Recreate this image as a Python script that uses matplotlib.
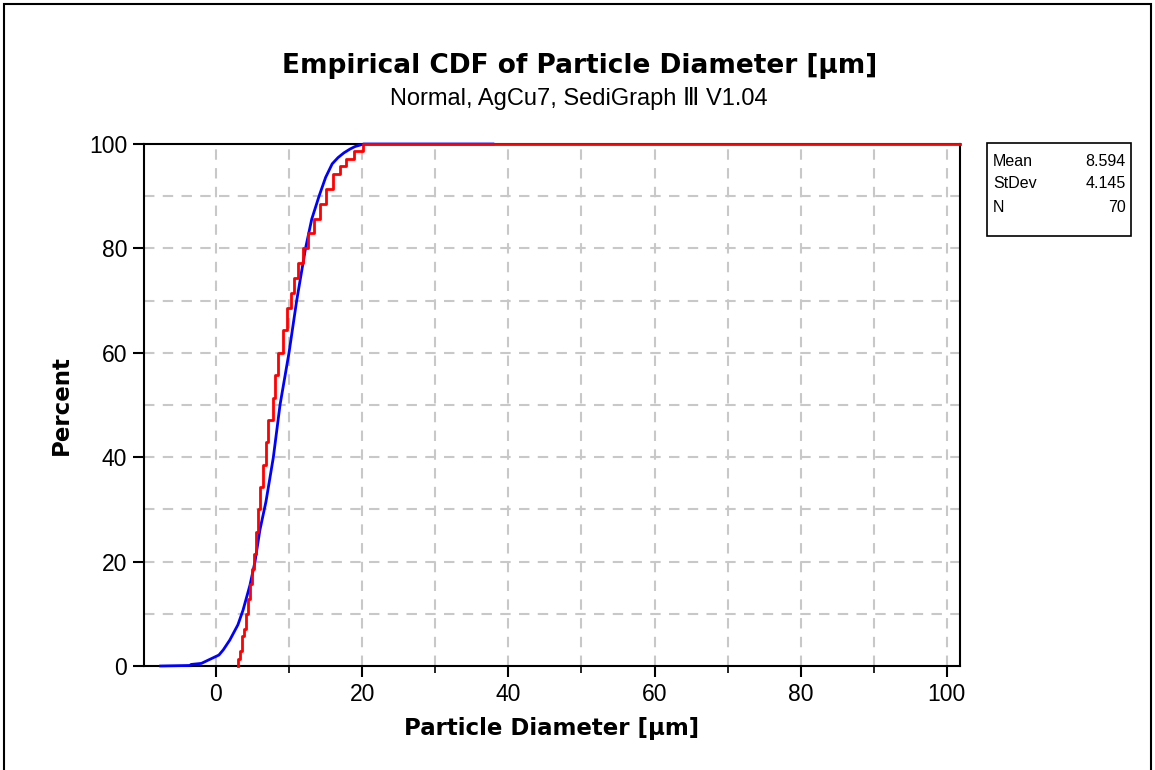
import matplotlib
matplotlib.use("Agg")
import matplotlib.pyplot as plt
from matplotlib.ticker import MultipleLocator
from matplotlib.patches import Rectangle
import numpy as np

# ---- data ----
# sorted observations (µm) and how many observations share each value
red_values = [2.97, 3.28, 3.56, 3.88, 4.10, 4.42, 4.65, 4.97, 5.15, 5.47, 5.70, 6.00,
              6.39, 6.84, 7.12, 7.76, 8.07, 8.53, 9.12, 9.67, 10.22, 10.72, 11.27,
              11.95, 12.60, 13.46, 14.25, 15.03, 15.95, 16.97, 17.85, 18.89, 20.05]
red_counts = [1, 1, 2, 1, 2, 2, 2, 2, 2, 3, 3, 3,
              3, 3, 3, 3, 3, 3, 3, 3, 2, 2, 2,
              2, 2, 2, 2, 2, 2, 1, 1, 1, 1]

# fitted normal CDF curve
blue_x = [-7.57, -3.6, -3.4, -2.0, 0.4, 1.0, 1.9, 3.0, 3.7, 4.65, 5.34, 6.0, 6.84,
          7.85, 8.76, 9.99, 11.04, 12.25, 13.1, 14.1, 15.0, 15.9, 16.7, 17.5, 18.3,
          19.0, 20.2, 37.9]
blue_y = [0.0, 0.1, 0.3, 0.5, 2.1, 3.1, 5.0, 7.9, 10.7, 15.5, 20.0, 26.0, 31.5,
          40.0, 50.0, 60.0, 70.0, 80.0, 85.6, 90.0, 93.6, 96.2, 97.4, 98.3, 99.0,
          99.5, 100.0, 100.0]

stat_names = ["Mean", "StDev", "N"]
stat_values = ["8.594", "4.145", "70"]

title = "Empirical CDF of Particle Diameter [µm]"
subtitle = "Normal, AgCu7, SediGraph Ⅲ V1.04"
xlabel = "Particle Diameter [µm]"
ylabel = "Percent"
x_ticks = [0, 20, 40, 60, 80, 100]
y_ticks = [0, 20, 40, 60, 80, 100]

# ---- figure ----
plt.rcParams['font.family'] = ['DejaVu Sans']
REG = ['Liberation Sans', 'DejaVu Sans']
fig = plt.figure(figsize=(11.55, 7.7), dpi=100)
ax = fig.add_axes([144/1155, 1-666/770, (960-144)/1155, (666-144)/770])

xmin, xmax = -9.85, 101.8
ax.set_xlim(xmin, xmax)
ax.set_ylim(0, 100)

# grid
for gx in range(0, 101, 10):
    ax.axvline(gx, color='#c8c8c8', lw=1.5, ls=(0, (5, 4)), zorder=0)
for gy in range(10, 100, 10):
    ax.axhline(gy, color='#c8c8c8', lw=1.5, ls=(0, (5, 4)), zorder=0)

# blue fitted curve
ax.plot(blue_x, blue_y, color='#0000ff', lw=2, zorder=3, clip_on=False)

# red empirical CDF
cum = np.cumsum(red_counts) / np.sum(red_counts) * 100
sx = np.concatenate([[red_values[0]], red_values, [xmax]])
sy = np.concatenate([[0], cum, [cum[-1]]])
ax.step(sx, sy, where='post', color='#ff0000', lw=2, zorder=4, clip_on=False)

ax.set_xticks(x_ticks)
ax.set_yticks(y_ticks)
ax.xaxis.set_minor_locator(MultipleLocator(10))
ax.tick_params(axis='both', which='major', length=8, width=1.5, direction='out',
               labelsize=16.5, colors='black', pad=4)
ax.tick_params(axis='x', which='minor', length=5, width=1.2, direction='out')
for lab in ax.get_xticklabels() + ax.get_yticklabels():
    lab.set_family(REG)
for s in ax.spines.values():
    s.set_linewidth(1.5)
    s.set_color('black')

ax.set_xlabel(xlabel, fontsize=16.5, fontweight='bold', labelpad=8)
ax.set_ylabel(ylabel, fontsize=16.5, fontweight='bold', labelpad=12)

fig.text(580/1155, 1-66/770, title, ha='center', va='center', fontsize=19, fontweight='bold')
fig.text(579/1155, 1-98/770, subtitle, ha='center', va='center', fontsize=17, family=REG)

# stats box
bx0, by0, bx1, by1 = 987, 143, 1131, 236
fig.patches.append(Rectangle((bx0/1155, 1-by1/770), (bx1-bx0)/1155, (by1-by0)/770,
                             transform=fig.transFigure, fill=False, ec='black', lw=1.2))
for i, (n, v) in enumerate(zip(stat_names, stat_values)):
    yy = 1 - (161 + i*23)/770
    fig.text(993/1155, yy, n, ha='left', va='center', fontsize=11.5, family=REG)
    fig.text(1126/1155, yy, v, ha='right', va='center', fontsize=11.5, family=REG)

# outer frame
fig.patches.append(Rectangle((4/1155, -0.01), 1147/1155, 1-4/770+0.01,
                             transform=fig.transFigure, fill=False, ec='black', lw=1.5))

fig.savefig("out.png", dpi=100)
